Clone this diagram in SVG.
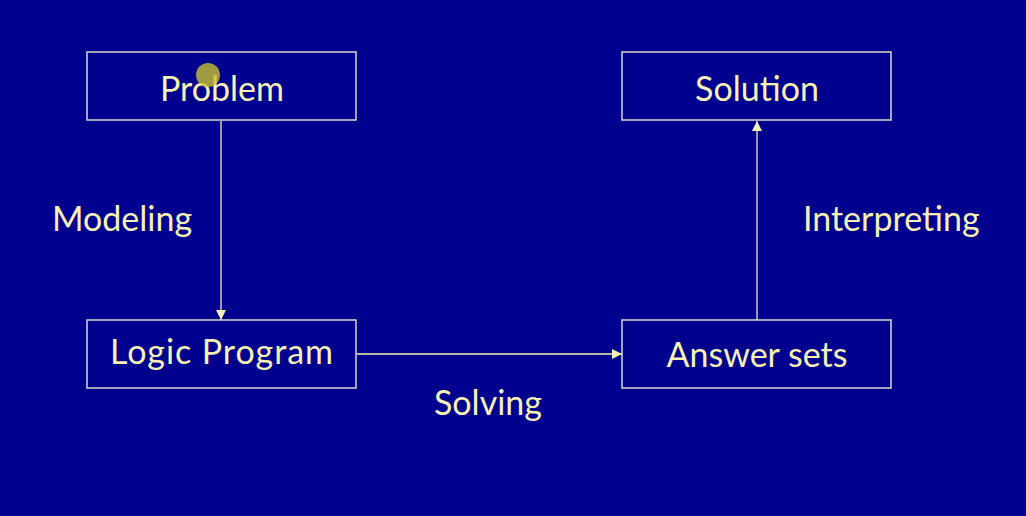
<svg xmlns="http://www.w3.org/2000/svg" width="1026" height="516" viewBox="0 0 1026 516">
<defs>
<style>
.box{fill:none;stroke:#d8d8c8;stroke-width:1.5}
.lbl{font-family:Lato,"DejaVu Sans",sans-serif;font-size:34px;fill:#f5f0b4}
.c{text-anchor:middle}
.edge{stroke:#f5f0b4;stroke-width:1.3;fill:none}
</style>
<marker id="ah" viewBox="0 0 10 10" refX="10" refY="5" markerWidth="10" markerHeight="10" markerUnits="userSpaceOnUse" orient="auto">
<path d="M0,0 L10,5 L0,10 Z" fill="#f5f0b4"/>
</marker>
</defs>
<rect width="1026" height="516" fill="#00008e"/>
<g id="connectors">
<line class="edge" x1="221" y1="121" x2="221" y2="320" marker-end="url(#ah)"/>
<line class="edge" x1="357" y1="354" x2="622" y2="354" marker-end="url(#ah)"/>
<line class="edge" x1="757" y1="320" x2="757" y2="121" marker-end="url(#ah)"/>
<text class="lbl" x="52" y="231">Modeling</text>
<text class="lbl" x="803" y="231">Interpreting</text>
<text class="lbl" x="434" y="415">Solving</text>
</g>
<g id="problem">
<rect class="box" x="87" y="52" width="269" height="68"/>
<text class="lbl c" x="222" y="101">Problem</text>
</g>
<g id="logic-program">
<rect class="box" x="87" y="320" width="269" height="68"/>
<text class="lbl" x="110" y="364" textLength="223" lengthAdjust="spacing">Logic Program</text>
</g>
<g id="solution">
<rect class="box" x="622" y="52" width="269" height="68"/>
<text class="lbl c" x="757" y="101">Solution</text>
</g>
<g id="answer-sets">
<rect class="box" x="622" y="320" width="269" height="68"/>
<text class="lbl c" x="757" y="367">Answer sets</text>
</g>
<circle cx="208" cy="75" r="12" fill="#c8c030" fill-opacity="0.8"/>
</svg>
